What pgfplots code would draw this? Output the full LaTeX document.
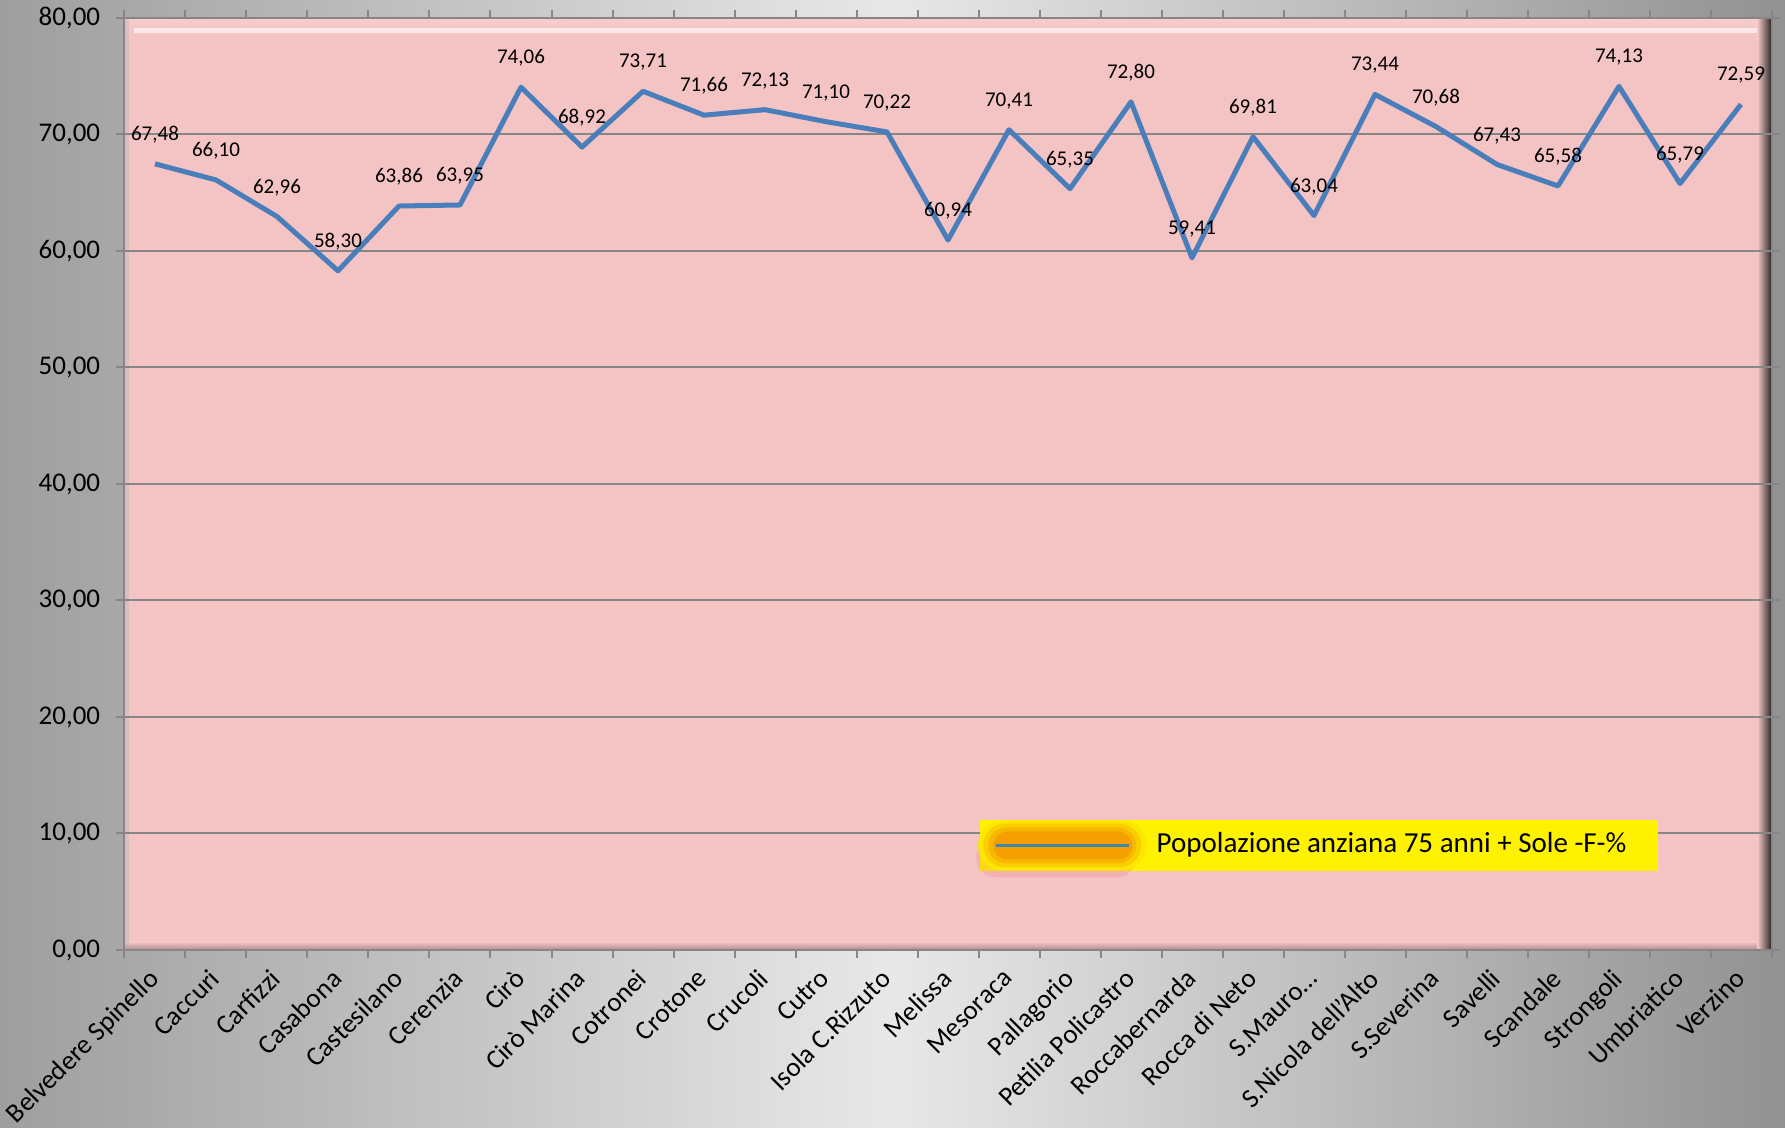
\documentclass[border=0pt]{standalone}
\usepackage{pgfplots}
\pgfplotsset{compat=1.18}
\usepackage{fontspec}
\setmainfont{Carlito}

\definecolor{pinkbg}{RGB}{244,195,195}
\definecolor{lineblue}{RGB}{74,126,187}
\definecolor{gridgray}{RGB}{134,134,134}
\definecolor{bgside}{RGB}{158,158,158}
\definecolor{bgmid}{RGB}{232,232,232}
\definecolor{glow}{RGB}{245,160,0}
\definecolor{legline}{RGB}{60,135,170}

\begin{document}
\begin{tikzpicture}
% chart background (1px = 0.5pt)
\shade[left color=bgside, right color=bgside!92!black, middle color=bgmid]
  (-62.25pt,-89pt) rectangle (830.25pt,475pt);
% plot area with bevel
\fill[pinkbg] (0,0) rectangle (823.5pt,466pt);
\shade[top color=pinkbg!85!white, bottom color=pinkbg] (0,456pt) rectangle (823.5pt,466pt);
\fill[white,opacity=.6] (5pt,458.5pt) rectangle (817pt,461pt);
\shade[top color=pinkbg, bottom color={rgb,255:red,175;green,140;blue,140}] (0,0) rectangle (823.5pt,4pt);
\shade[left color=pinkbg, right color=black!85] (816.5pt,0) rectangle (823.5pt,466pt);
\fill[gray!60,opacity=.35] (0,0) rectangle (2.5pt,466pt);

\begin{axis}[
  scale only axis, width=823.5pt, height=466pt,
  at={(0,0)}, anchor=south west,
  xmin=-0.5, xmax=26.5, ymin=0, ymax=80,
  xtick={0,...,26},
  xticklabels={Belvedere Spinello,Caccuri,Carfizzi,Casabona,Castesilano,Cerenzia,Cirò,Cirò Marina,Cotronei,Crotone,Crucoli,Cutro,Isola C.Rizzuto,Melissa,Mesoraca,Pallagorio,Petilia Policastro,Roccabernarda,Rocca di Neto,S.Mauro…,S.Nicola dell'Alto,S.Severina,Savelli,Scandale,Strongoli,Umbriatico,Verzino},
  minor xtick={-0.5,0.5,...,26.5},
  ytick={0,10,...,80}, minor ytick={0,10,...,80},
  major tick length=0pt, minor tick length=4pt, tick align=outside,
  tick style={gridgray,line width=1pt},
  ymajorgrids, grid style={gridgray,line width=1pt},
  axis line style={gridgray,line width=1pt},
  xticklabel style={font=\fontsize{13.5}{16}\selectfont, inner sep=0pt,
    xshift=-4pt, yshift=-8.5pt, rotate=45, anchor=north east},
  yticklabel style={font=\fontsize{13.5}{16}\selectfont, inner sep=0pt, anchor=east, xshift=-12pt},
  /pgf/number format/fixed, /pgf/number format/fixed zerofill,
  /pgf/number format/precision=2, /pgf/number format/use comma,
  /pgf/number format/assume math mode=true,
  legend style={at={(0.519,0.1395)}, anchor=north west, fill=yellow, draw=none,
    inner xsep=7.5pt, inner ysep=5.8pt, font=\fontsize{14.5}{17}\selectfont,
    nodes={inner sep=0pt, text height=10.5pt, text depth=3pt}},
  legend cell align=left,
  legend image code/.code={
    \path[overlay, draw=none, fill={rgb,255:red,235;green,120;blue,120}, opacity=.22, rounded corners=10pt]
      (-10pt,-16pt) rectangle (70pt,4pt);
    \path[overlay, draw=none, fill=glow!25!yellow, rounded corners=12pt] (-9pt,-12.5pt) rectangle (75pt,12.5pt);
    \path[overlay, draw=none, fill=glow!50!yellow, rounded corners=11pt] (-6.5pt,-11pt) rectangle (72.5pt,11pt);
    \path[overlay, draw=none, fill=glow!75!yellow, rounded corners=9pt] (-4pt,-9pt) rectangle (70pt,9pt);
    \path[overlay, draw=none, fill=glow, rounded corners=7pt] (-1.5pt,-7pt) rectangle (68pt,7pt);
    \draw[legline, line width=1.5pt] (0pt,0pt) -- (66.5pt,0pt);
    \path (79pt,0pt);
  },
]
\addplot[lineblue, line width=2.5pt, line join=round,
  nodes near coords,
  nodes near coords style={font=\fontsize{10.5}{12}\selectfont, text=black,
    anchor=center, yshift=14.5pt,
    /pgf/number format/.cd, fixed, fixed zerofill, precision=2, use comma, assume math mode=true}]
coordinates {
(0,67.48) (1,66.10) (2,62.96) (3,58.30) (4,63.86) (5,63.95) (6,74.06)
(7,68.92) (8,73.71) (9,71.66) (10,72.13) (11,71.10) (12,70.22) (13,60.94)
(14,70.41) (15,65.35) (16,72.80) (17,59.41) (18,69.81) (19,63.04) (20,73.44)
(21,70.68) (22,67.43) (23,65.58) (24,74.13) (25,65.79) (26,72.59)
};
\addlegendentry{Popolazione anziana 75 anni + Sole -F-\%\kern8pt}
\end{axis}
\pgfresetboundingbox
\useasboundingbox (-62.25pt,-89pt) rectangle (830.25pt,475pt);
\end{tikzpicture}
\end{document}
